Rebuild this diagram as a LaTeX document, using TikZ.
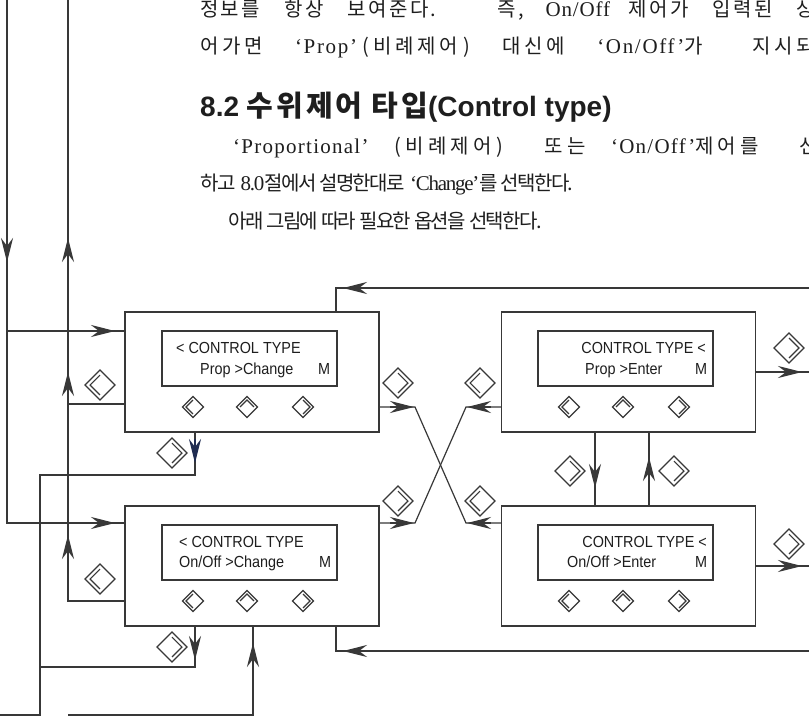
\documentclass[tikz,border=0pt]{standalone}
\usepackage{fontspec}
\setmainfont[Scale=1.05]{Liberation Serif}
\setsansfont{Liberation Sans}
\newfontfamily\kr{Noto Sans CJK KR}
\newfontfamily\lcdfont[FakeStretch=0.9]{Liberation Sans}
\newcommand{\krls}[2]{{\kr\addfontfeature{LetterSpace=#1}#2}}
\newcommand{\ltls}[2]{{\addfontfeature{LetterSpace=#1}#2}}
\usetikzlibrary{arrows.meta,calc}
\definecolor{ln}{HTML}{383838}
\definecolor{tx}{HTML}{1E1E1E}
\definecolor{navy}{HTML}{1F2C52}
\tikzset{
  box/.style={draw=ln,line width=1.5pt,minimum width=254pt,minimum height=120pt,inner sep=0pt},
  lcd/.style={draw=ln,line width=1.5pt,minimum width=175pt,minimum height=55pt,inner sep=0pt},
  lcdtxt/.style={font=\fontsize{16}{18}\lcdfont,text=tx,inner sep=0pt},
  body/.style={font=\fontsize{20}{24}\selectfont,text=tx,inner sep=0pt,anchor=base west},
  conn/.style={draw=ln,line width=1.2pt},
  tipst/.style={conn,-{Stealth[length=24pt,width=12pt,inset=8pt]}},
  pics/keyL/.style={code={
    \draw[ln,line width=1.2pt] (-#1,0)--(0,-#1)--(#1,0)--(0,#1)--cycle;
    \draw[ln,line width=1.2pt] (0,-0.66*#1)--(-0.66*#1,0)--(0,0.66*#1);}},
  pics/keyR/.style={code={
    \draw[ln,line width=1.2pt] (-#1,0)--(0,-#1)--(#1,0)--(0,#1)--cycle;
    \draw[ln,line width=1.2pt] (0,-0.66*#1)--(0.66*#1,0)--(0,0.66*#1);}},
  pics/keyU/.style={code={
    \draw[ln,line width=1.2pt] (-#1,0)--(0,-#1)--(#1,0)--(0,#1)--cycle;
    \draw[ln,line width=1.2pt] (-0.66*#1,0)--(0,-0.66*#1)--(0.66*#1,0);}},
}
\begin{document}
\begin{tikzpicture}[x=1pt,y=-1pt]
\useasboundingbox[fill=white] (0,0) rectangle (809,718);

% ---------- text ----------
\node[body] (t1) at (200,16) {\makebox[615pt][s]{\krls{12}{정보를 항상 보여준다. 즉,} \ltls{4}{On/Off} \krls{12}{제어가 입력된 상}}};
\node[body] (t2) at (200,53) {\makebox[615pt][s]{\krls{18}{어가면} \ltls{8}{‘Prop’}\krls{18}{\kern5pt(\kern5pt비례제어\kern5pt)} \krls{18}{대신에} \ltls{8}{‘On/Off’}\krls{18}{가 지시되}}};
\node[body,font=\fontsize{28}{32}\selectfont\bfseries] (hd) at (200,116) {\sffamily 8.2 {\fontsize{29}{32}\kr\addfontfeature{LetterSpace=10}수위제어 타입}(Control type)};
\node[body] (t4) at (233,153) {\makebox[585pt][s]{\ltls{6}{‘Proportional’} \krls{20}{(\kern5pt비례제어\kern5pt) 또는} \ltls{6}{‘On/Off’}\krls{20}{제어를 선}}};
\node[body] (t5) at (200,190) {\krls{-8}{하고} \ltls{-6}{8.0}\krls{-8}{절에서 설명한대로} \ltls{-6}{‘Change’}\krls{-8}{를 선택한다.}};
\node[body] (t6) at (228,228) {\krls{-8}{아래 그림에 따라 필요한 옵션을 선택한다.}};

% ---------- boxes ----------
\node[box] (A) at (252,372) {};
\node[box] (B) at (628.5,372) {};
\node[box] (C) at (252,566) {};
\node[box] (D) at (628.5,566) {};
\node[lcd] (Al) at (249.5,358.5) {};
\node[lcd] (Bl) at (625.5,358.5) {};
\node[lcd] (Cl) at (249.5,552.5) {};
\node[lcd] (Dl) at (625.5,552.5) {};

\node[lcdtxt,anchor=base west] (a1) at (176,353) {< CONTROL TYPE};
\node[lcdtxt,anchor=base west] (a2) at (200,374) {Prop >Change};
\node[lcdtxt,anchor=base west] (a3) at (318,374) {M};
\node[lcdtxt,anchor=base east] (b1) at (706,353) {CONTROL TYPE <};
\node[lcdtxt,anchor=base west] (b2) at (585,374) {Prop >Enter};
\node[lcdtxt,anchor=base west] (b3) at (695,374) {M};
\node[lcdtxt,anchor=base west] (c1) at (179,547) {< CONTROL TYPE};
\node[lcdtxt,anchor=base west] (c2) at (179,567) {On/Off >Change};
\node[lcdtxt,anchor=base west] (c3) at (319,567) {M};
\node[lcdtxt,anchor=base east] (d1) at (707,547) {CONTROL TYPE <};
\node[lcdtxt,anchor=base west] (d2) at (567,567) {On/Off >Enter};
\node[lcdtxt,anchor=base west] (d3) at (695,567) {M};

% small keys
\foreach \bx/\by in {125/407,501/407,125/601,501/601}{
  \pic at (\bx+68,\by) {keyL=10.5};
  \pic at (\bx+122,\by) {keyU=10.5};
  \pic at (\bx+178,\by) {keyR=10.5};
}

% ---------- coordinates ----------
\coordinate (L1top) at (7,0);
\coordinate (L1a) at (7,331);
\coordinate (L1b) at (7,523);
\coordinate (L2top) at (68,0);
\coordinate (L2a) at (68,404);
\coordinate (L2b) at (68,601);
\coordinate (Ad) at (195,475);
\coordinate (Cd) at (195,667);
\coordinate (L3a) at (40,475);
\coordinate (L3b) at (40,667);
\coordinate (L3c) at (40,715);
\coordinate (L3d) at (0,715);
\coordinate (Cu) at (253,715);
\coordinate (Cu2) at (68,715);
\coordinate (Tr) at (809,288);
\coordinate (Tl) at (336,288);
\coordinate (Br) at (809,651);
\coordinate (Bl2) at (336,651);
\coordinate (Ro1) at (809,372);
\coordinate (Ro2) at (809,566);
\coordinate (Xa) at (415,407);
\coordinate (Xb) at (466,407);
\coordinate (Xc) at (415,523);
\coordinate (Xd) at (466,523);
\coordinate (V1) at (595,0);
\coordinate (V2) at (649,0);

% ---------- connectors ----------
\draw[conn] (L1top) -- (L1b) -- (C.west |- L1b);
\draw[conn] (L1a) -- (A.west |- L1a);
\draw[conn] (A.west |- L2a) -- (L2a);
\draw[conn] (C.west |- L2b) -- (L2b) -- (L2top);
\draw[conn] (A.south -| Ad) -- (Ad) -- (L3a) -- (L3c) -- (L3d);
\draw[conn] (C.south -| Cd) -- (Cd) -- (L3b);
\draw[conn] (C.south -| Cu) -- (Cu) -- (Cu2);
\draw[conn] (Tr) -- (Tl) -- (A.north -| Tl);
\draw[conn] (Br) -- (Bl2) -- (C.south -| Bl2);
\draw[conn] (B.east |- Ro1) -- (Ro1);
\draw[conn] (D.east |- Ro2) -- (Ro2);
\draw[conn] (A.east |- Xa) -- (Xa) -- (Xd) -- (D.west |- Xd);
\draw[conn] (C.east |- Xc) -- (Xc) -- (Xb) -- (B.west |- Xb);
\draw[conn] (B.south -| V1) -- (D.north -| V1);
\draw[conn] (D.north -| V2) -- (B.south -| V2);

% ---------- arrowheads ----------
\draw[tipst] (7,238) -- (7,262);
\draw[tipst] (91,331) -- (115,331);
\draw[tipst] (91,523) -- (115,523);
\draw[tipst] (68,262) -- (68,238);
\draw[tipst] (68,396) -- (68,372);
\draw[tipst] (68,559) -- (68,535);
\draw[tipst,draw=navy] (195,439) -- (195,463);
\draw[tipst] (195,636) -- (195,660);
\draw[tipst] (253,667) -- (253,643);
\draw[tipst] (367,288) -- (343,288);
\draw[tipst] (367,651) -- (343,651);
\draw[tipst] (778,372) -- (802,372);
\draw[tipst] (778,566) -- (802,566);
\draw[tipst] (390,407) -- (414,407);
\draw[tipst] (390,523) -- (414,523);
\draw[tipst] (491,407) -- (467,407);
\draw[tipst] (491,523) -- (467,523);
\draw[tipst] (595,464) -- (595,488);
\draw[tipst] (649,481) -- (649,457);

% ---------- big keys ----------
\pic at (100,385) {keyL=15};
\pic at (100,579) {keyL=15};
\pic at (480,383) {keyL=15};
\pic at (480,501) {keyL=15};
\pic at (398,383) {keyR=15};
\pic at (398,501) {keyR=15};
\pic at (789,348) {keyR=15};
\pic at (789,544) {keyR=15};
\pic at (172,453) {keyR=15};
\pic at (172,647) {keyR=15};
\pic at (570,471) {keyR=15};
\pic at (674,471) {keyR=15};
\end{tikzpicture}
\end{document}
